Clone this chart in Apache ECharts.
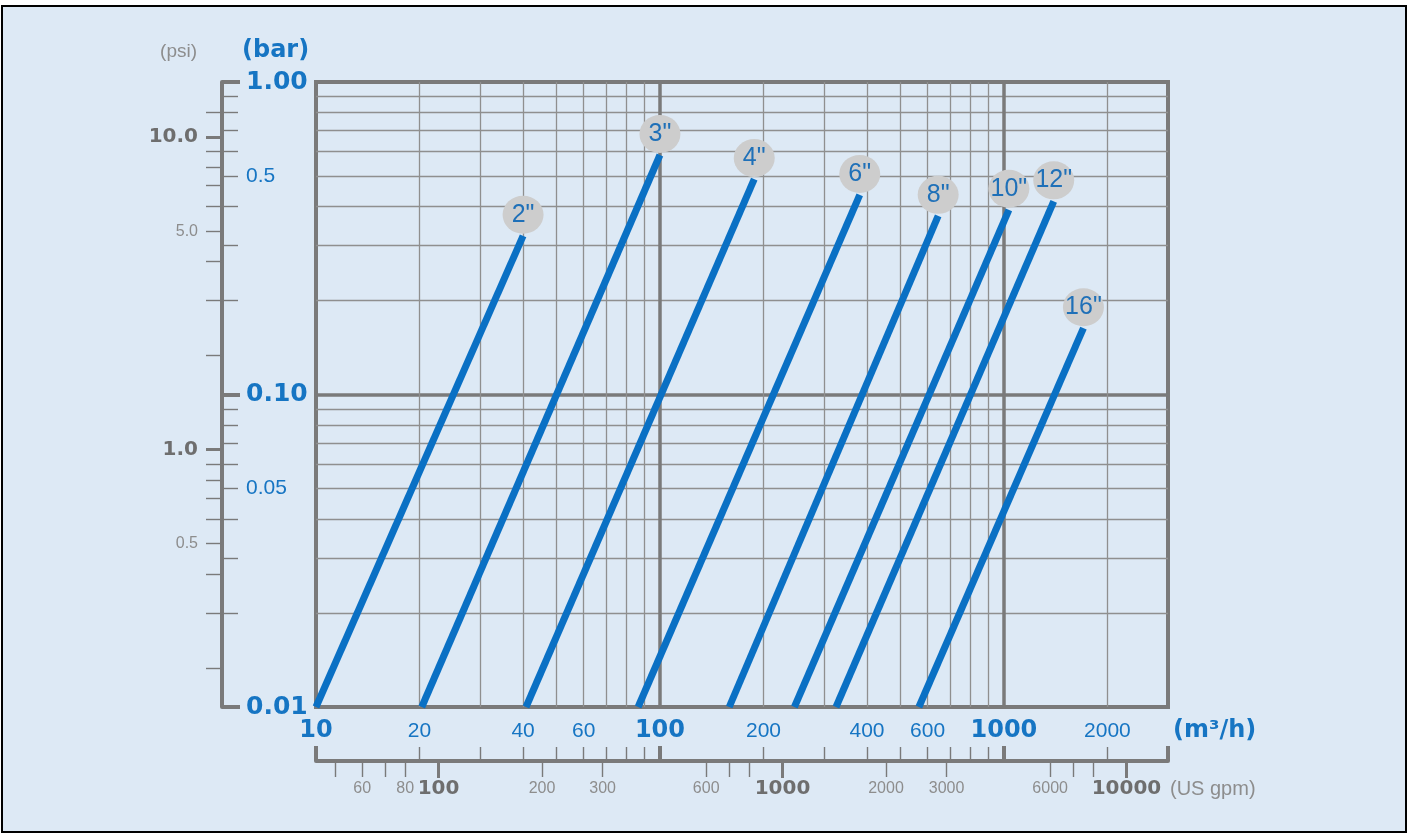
<!DOCTYPE html>
<html>
<head>
<meta charset="utf-8">
<script src="https://cdn.jsdelivr.net/npm/echarts@6/dist/echarts.min.js"></script>
<style>
html,body{margin:0;padding:0;background:#fff;width:1408px;height:833px;overflow:hidden;}
#frame{position:absolute;left:1px;top:5px;width:1402px;height:824px;border:2px solid #000;background:#dde9f5;}
#chart{position:absolute;left:0;top:0;width:1408px;height:833px;}
</style>
</head>
<body>
<div id="frame"></div>
<div id="chart"></div>
<script>
// ---- data ----
const sizes     = ['2"', '3"', '4"', '6"', '8"', '10"', '12"', '16"'];
const flowStart = [10, 20.3, 40.8, 86.4, 159, 246, 325, 566];      // m³/h at the low end
const dropStart = [0.01, 0.01, 0.01, 0.01, 0.01, 0.01, 0.01, 0.01]; // bar
const flowEnd   = [40, 100, 188, 381, 644, 1034, 1396, 1703];      // m³/h at the high end
const dropEnd   = [0.322, 0.584, 0.489, 0.435, 0.373, 0.390, 0.415, 0.163]; // bar

// ---- axes / ticks ----
const flowMin = 10, flowMax = 3000;
const barMin = 0.01, barMax = 1;
const GPM_PER_M3H = 4.4029;
const PSI_PER_BAR = 15.0;   // as drawn on the reference's psi scale

const flowMinorTicks = [20, 30, 40, 50, 60, 70, 80, 90, 200, 300, 400, 500, 600, 700, 800, 900, 2000];
const flowMajorTicks = [100, 1000];
const flowEndTicks   = [10, 100, 1000, 3000];
const flowLabels     = [10, 20, 40, 60, 100, 200, 400, 600, 1000, 2000];

const barMinorTicks  = [0.02, 0.03, 0.04, 0.05, 0.06, 0.07, 0.08, 0.09, 0.2, 0.3, 0.4, 0.5, 0.6, 0.7, 0.8, 0.9];
const barMajorTicks  = [0.01, 0.1, 1];
const barMinorLabels = [0.05, 0.5];

const psiMinorTicks  = [0.2, 0.3, 0.4, 0.5, 0.6, 0.7, 0.8, 0.9, 2, 3, 4, 5, 6, 7, 8, 9, 12];
const psiMajorTicks  = [1, 10];
const psiMinorLabels = [0.5, 5];

const gpmMinorTicks  = [50, 60, 70, 80, 200, 300, 600, 700, 800, 2000, 3000, 6000, 7000, 8000];
const gpmMajorTicks  = [100, 1000, 10000];
const gpmLabels      = [60, 80, 100, 200, 300, 600, 1000, 2000, 3000, 6000, 10000];

// ---- styles ----
const BLUE_LINE = '#0a70c4';
const BLUE_TEXT = '#1675c3';
const AXIS = '#7a7a7a';
const GRID_MINOR = '#8f8f8f';
const GREY_BOLD = '#6e6e6e';
const GREY_LIGHT = '#8d8d8d';
const BOLD_FONT = '"DejaVu Sans", sans-serif';
const REG_FONT = '"Liberation Sans", Arial, sans-serif';

function isDecade(v) { const l = Math.log10(v); return Math.abs(l - Math.round(l)) < 1e-6; }

const hidden = {
  axisLine: {show: false, onZero: false},
  axisTick: {show: false},
  axisLabel: {show: false},
  splitLine: {show: false},
  minorTick: {show: false},
  minorSplitLine: {show: false}
};
function axis(o) { return Object.assign({type: 'log', logBase: 10, nameMoveOverlap: false}, hidden, o); }

const xAxes = [
  // main flow axis (labels + minor grid)
  axis({
    min: flowMin, max: flowMax, position: 'bottom', offset: 0,
    axisTick: {show: false, customValues: flowMinorTicks},
    splitLine: {show: true, lineStyle: {color: GRID_MINOR, width: 1.3}},
    axisLabel: {
      show: true, customValues: flowLabels, margin: 24, verticalAlign: 'middle',
      formatter: v => isDecade(v) ? '{b|' + v + '}' : '{r|' + v + '}',
      rich: {
        b: {fontFamily: BOLD_FONT, fontWeight: 'bold', fontSize: 24, color: BLUE_TEXT},
        r: {fontFamily: REG_FONT, fontSize: 21, color: BLUE_TEXT}
      }
    },
    name: '\n(m³/h)', nameLocation: 'end', nameGap: 5,
    nameTextStyle: {fontFamily: BOLD_FONT, fontWeight: 'bold', fontSize: 24, color: BLUE_TEXT,
      align: 'left', verticalAlign: 'middle', lineHeight: 48}
  }),
  // major flow grid
  axis({
    min: flowMin, max: flowMax, position: 'bottom', offset: 0,
    axisTick: {show: false, customValues: flowMajorTicks},
    splitLine: {show: true, lineStyle: {color: AXIS, width: 3.5}}
  }),
  // flow ticks on the gpm line (upwards)
  axis({
    min: flowMin, max: flowMax, position: 'bottom', offset: 54,
    axisTick: {show: true, inside: true, customValues: flowMinorTicks, length: 14, lineStyle: {color: AXIS, width: 1.4}}
  }),
  axis({
    min: flowMin, max: flowMax, position: 'bottom', offset: 54,
    axisTick: {show: true, inside: true, customValues: flowEndTicks, length: 15, lineStyle: {color: AXIS, width: 4}}
  }),
  // US gpm axis
  axis({
    min: flowMin * GPM_PER_M3H, max: flowMax * GPM_PER_M3H, position: 'bottom', offset: 54,
    axisLine: {show: true, onZero: false, lineStyle: {color: AXIS, width: 4}},
    axisTick: {show: true, inside: false, customValues: gpmMinorTicks, length: 16, lineStyle: {color: AXIS, width: 1.4}},
    axisLabel: {
      show: true, customValues: gpmLabels, margin: 28, verticalAlign: 'middle',
      formatter: v => isDecade(v) ? '{b|' + v + '}' : '{r|' + v + '}',
      rich: {
        b: {fontFamily: BOLD_FONT, fontWeight: 'bold', fontSize: 20, color: GREY_BOLD},
        r: {fontFamily: REG_FONT, fontSize: 16, color: GREY_LIGHT}
      }
    },
    name: '\n(US gpm)', nameLocation: 'end', nameGap: 2,
    nameTextStyle: {fontFamily: REG_FONT, fontSize: 20, color: GREY_LIGHT,
      align: 'left', verticalAlign: 'middle', lineHeight: 56}
  }),
  axis({
    min: flowMin * GPM_PER_M3H, max: flowMax * GPM_PER_M3H, position: 'bottom', offset: 54,
    axisTick: {show: true, inside: false, customValues: gpmMajorTicks, length: 17, lineStyle: {color: AXIS, width: 3}}
  })
];

const yAxes = [
  // bar axis: line, minor ticks, minor labels, minor grid
  axis({
    min: barMin, max: barMax, position: 'left', offset: 94,
    axisLine: {show: true, onZero: false, lineStyle: {color: AXIS, width: 4}},
    axisTick: {show: true, inside: true, customValues: barMinorTicks, length: 16, lineStyle: {color: AXIS, width: 1.4}},
    splitLine: {show: true, lineStyle: {color: GRID_MINOR, width: 1.3}},
    axisLabel: {show: true, inside: true, customValues: barMinorLabels, margin: 24,
      formatter: v => String(v), fontFamily: REG_FONT, fontSize: 21, color: BLUE_TEXT},
    name: '(bar)', nameLocation: 'end', nameGap: 19,
    nameTextStyle: {fontFamily: BOLD_FONT, fontWeight: 'bold', fontSize: 24, color: BLUE_TEXT,
      align: 'left', verticalAlign: 'bottom', padding: [0, 0, 0, 20]}
  }),
  // bar axis: major ticks / labels / grid
  axis({
    min: barMin, max: barMax, position: 'left', offset: 94,
    axisTick: {show: true, inside: true, customValues: barMajorTicks, length: 18, lineStyle: {color: AXIS, width: 4}},
    splitLine: {show: true, lineStyle: {color: AXIS, width: 3.5}},
    axisLabel: {show: true, inside: true, customValues: barMajorTicks, margin: 24,
      formatter: v => v.toFixed(2), fontFamily: BOLD_FONT, fontWeight: 'bold', fontSize: 25, color: BLUE_TEXT}
  }),
  // psi axis
  axis({
    min: barMin * PSI_PER_BAR, max: barMax * PSI_PER_BAR, position: 'left', offset: 94,
    axisTick: {show: true, inside: false, customValues: psiMinorTicks, length: 16, lineStyle: {color: AXIS, width: 1.4}},
    axisLabel: {show: true, customValues: psiMinorLabels, margin: 24,
      formatter: v => v.toFixed(1), fontFamily: REG_FONT, fontSize: 16, color: GREY_LIGHT},
    name: '(psi)', nameLocation: 'end', nameGap: 21,
    nameTextStyle: {fontFamily: REG_FONT, fontSize: 19, color: GREY_LIGHT,
      align: 'right', verticalAlign: 'bottom', padding: [0, 25, 0, 0]}
  }),
  axis({
    min: barMin * PSI_PER_BAR, max: barMax * PSI_PER_BAR, position: 'left', offset: 94,
    axisTick: {show: true, inside: false, customValues: psiMajorTicks, length: 16, lineStyle: {color: AXIS, width: 3}},
    axisLabel: {show: true, customValues: psiMajorTicks, margin: 24,
      formatter: v => v.toFixed(1), fontFamily: BOLD_FONT, fontWeight: 'bold', fontSize: 20, color: GREY_BOLD}
  })
];

const lineSeries = sizes.map((s, i) => ({
  type: 'line', name: s, xAxisIndex: 0, yAxisIndex: 0,
  data: [[flowStart[i], dropStart[i]], [flowEnd[i], dropEnd[i]]],
  symbol: 'none', silent: true, z: 3,
  lineStyle: {color: BLUE_LINE, width: 7, cap: 'butt'}
}));

const bubbleSeries = {
  type: 'scatter', xAxisIndex: 0, yAxisIndex: 0, silent: true, z: 4, clip: false,
  data: sizes.map((s, i) => ({name: s, value: [flowEnd[i], dropEnd[i]]})),
  symbol: 'circle', symbolSize: [41, 38], symbolOffset: [0, -21],
  itemStyle: {color: '#cdcdcd', opacity: 1},
  label: {show: true, position: 'inside', formatter: p => p.name,
    fontFamily: '"Liberation Sans Narrow", "Liberation Sans", Arial, sans-serif',
    fontSize: 25, color: '#1f70b8'}
};

const chart = echarts.init(document.getElementById('chart'), null, {renderer: 'canvas'});
chart.setOption({
  animation: false,
  backgroundColor: 'transparent',
  grid: {left: 316, right: 240, top: 82, bottom: 126, containLabel: false, outerBoundsMode: 'none',
    show: true, borderColor: AXIS, borderWidth: 4, backgroundColor: 'transparent'},
  xAxis: xAxes,
  yAxis: yAxes,
  series: lineSeries.concat([bubbleSeries])
});
</script>
</body>
</html>
